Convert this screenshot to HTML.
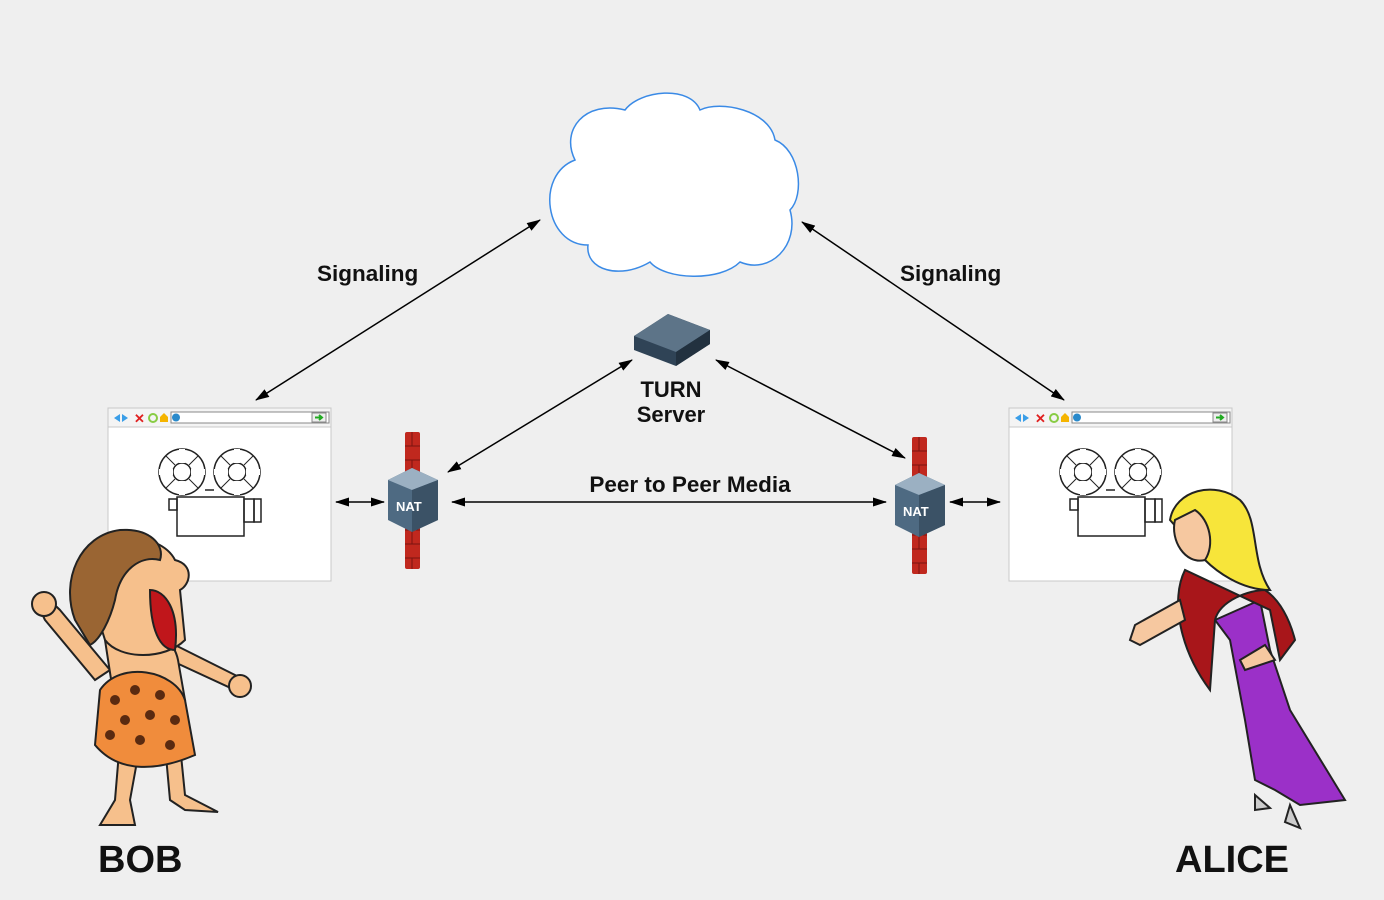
<!DOCTYPE html>
<html><head><meta charset="utf-8"><style>
html,body{margin:0;padding:0;background:#efefef;}
svg{display:block;}
text{font-family:"Liberation Sans",Arial,sans-serif;font-weight:bold;fill:#111;}
</style></head><body>
<svg width="1384" height="900" viewBox="0 0 1384 900" xmlns="http://www.w3.org/2000/svg">
<defs>
<marker id="ah" viewBox="0 0 14 10" refX="13" refY="5" markerWidth="14" markerHeight="10" orient="auto-start-reverse" markerUnits="userSpaceOnUse"><path d="M0,0.5 L14,5 L0,9.5 z" fill="#000"/></marker>
<g id="browser">
<rect x="0" y="0" width="223" height="173" fill="#fff" stroke="#c8c8c8"/>
<rect x="0" y="0" width="223" height="19" fill="#f4f4f4" stroke="#c8c8c8"/>
<path d="M6,10 l6,-4 v8z" fill="#3a9ee8"/><path d="M20,10 l-6,-4 v8z" fill="#3a9ee8"/>
<text x="26" y="15" style="fill:#e02020;font-size:13px">✕</text>
<circle cx="45" cy="10" r="4" fill="none" stroke="#8c4" stroke-width="2"/>
<path d="M52,14 v-5 l4,-4 l4,4 v5z" fill="#f5b400"/>
<rect x="63" y="4" width="158" height="11" fill="#fff" stroke="#888"/>
<circle cx="68" cy="9.5" r="4" fill="#2a8acb"/>
<rect x="204" y="5" width="14" height="9" fill="#eee" stroke="#888"/><path d="M207,9.5 h6 M211,7 l3,2.5 -3,2.5" stroke="#2a2" stroke-width="2" fill="none"/>
<g fill="none" stroke="#222" stroke-width="1.5">
<circle cx="74" cy="64" r="23"/><circle cx="74" cy="64" r="9"/>
<circle cx="129" cy="64" r="23"/><circle cx="129" cy="64" r="9"/>
<path d="M74,41v14M74,73v14M51,64h14M83,64h14M129,41v14M129,73v14M106,64h14M138,64h14" stroke-width="6" stroke="#fff"/>
<path d="M58,48l9,9M90,48l-9,9M58,80l9,-9M90,80l-9,-9M113,48l9,9M145,48l-9,9M113,80l9,-9M145,80l-9,-9" stroke-width="1"/>
<path d="M97,82 h9"/>
<rect x="69" y="89" width="67" height="39"/><rect x="61" y="91" width="8" height="11"/>
<rect x="136" y="91" width="10" height="23"/><rect x="146" y="91" width="7" height="23"/>
</g>
</g>
<g id="nat">
<rect x="-7" y="0" width="15" height="137" fill="#c0281e" rx="2"/>
<g stroke="#7a1410" stroke-width="1"><path d="M-7,14h15M-7,28h15M-7,42h15M-7,98h15M-7,112h15M-7,126h15M0,0v14M0,28v14M0,98v14M0,126v11"/></g>
<path d="M-24,48 L0,36 L26,48 L26,88 L0,100 L-24,88z" fill="#4e6a82"/>
<path d="M-24,48 L0,36 L26,48 L0,58z" fill="#9bb0c2"/>
<path d="M0,58 L26,48 L26,88 L0,100z" fill="#3b5266"/>
<text x="-16" y="79" style="fill:#fff;font-size:13px">NAT</text>
</g>
</defs>

<!-- cloud -->
<path d="M575,160 C560,130 585,100 625,110 C640,90 690,85 700,110 C720,100 770,110 775,140 C800,150 805,195 790,210 C800,245 770,275 740,262 C720,282 665,280 650,262 C620,280 585,270 588,245 C545,245 535,175 575,160z" fill="#fff" stroke="#3a8ae6" stroke-width="1.5"/>

<!-- arrows -->
<g stroke="#000" stroke-width="1.5" fill="none">
<line x1="540" y1="220" x2="256" y2="400" marker-start="url(#ah)" marker-end="url(#ah)"/>
<line x1="802" y1="222" x2="1064" y2="400" marker-start="url(#ah)" marker-end="url(#ah)"/>
<line x1="632" y1="360" x2="448" y2="472" marker-start="url(#ah)" marker-end="url(#ah)"/>
<line x1="716" y1="360" x2="905" y2="458" marker-start="url(#ah)" marker-end="url(#ah)"/>
<line x1="452" y1="502" x2="886" y2="502" marker-start="url(#ah)" marker-end="url(#ah)"/>
<line x1="336" y1="502" x2="384" y2="502" marker-start="url(#ah)" marker-end="url(#ah)"/>
<line x1="950" y1="502" x2="1000" y2="502" marker-start="url(#ah)" marker-end="url(#ah)"/>
</g>

<!-- turn server -->
<path d="M634,336 L668,314 L710,330 L710,344 L676,366 L634,350z" fill="#2f4356"/>
<path d="M634,336 L668,314 L710,330 L676,352z" fill="#5d7488"/>
<path d="M676,352 L710,330 L710,344 L676,366z" fill="#22313f"/>

<use href="#browser" x="108" y="408"/>
<use href="#browser" x="1009" y="408"/>
<use href="#nat" x="412" y="432"/>
<use href="#nat" x="919" y="437"/>

<text x="317" y="281" style="font-size:22.5px">Signaling</text>
<text x="900" y="281" style="font-size:22.5px">Signaling</text>
<text x="671" y="397" text-anchor="middle" style="font-size:22px">TURN</text>
<text x="671" y="422" text-anchor="middle" style="font-size:22px">Server</text>
<text x="690" y="492" text-anchor="middle" style="font-size:22.5px">Peer to Peer Media</text>
<text x="98" y="872" style="font-size:38px">BOB</text>
<text x="1175" y="872" style="font-size:38px">ALICE</text>

<!-- Bob -->
<g stroke="#222" stroke-width="2">
<path d="M60,610 C40,590 35,600 45,620 L95,680 L110,670z" fill="#f6c08c"/>
<path d="M170,660 L235,690 L245,680 L175,645z" fill="#f6c08c"/>
<circle cx="44" cy="604" r="12" fill="#f6c08c"/>
<circle cx="240" cy="686" r="11" fill="#f6c08c"/>
<path d="M105,640 C110,620 170,620 178,660 L185,700 L115,705z" fill="#f6c08c"/>
<path d="M120,740 L115,800 L100,825 L135,825 L130,800 L140,745z" fill="#f6c08c"/>
<path d="M165,745 L170,800 L185,810 L218,812 L185,795 L180,745z" fill="#f6c08c"/>
<path d="M100,690 C120,660 175,670 185,700 L195,755 C160,770 120,775 95,745z" fill="#f08c3c"/>
<path d="M80,560 C95,530 160,530 175,560 C195,565 190,585 180,590 L185,640 C165,660 120,660 105,640z" fill="#f6c08c"/>
<path d="M75,620 C60,580 80,535 120,530 C150,528 165,545 160,560 C140,555 120,570 115,600 C110,620 100,640 90,645z" fill="#9a6533"/>
<path d="M150,590 C165,590 180,610 175,650 C160,650 150,630 150,590z" fill="#c0161b"/>
</g>
<g fill="#5a2a10">
<circle cx="115" cy="700" r="5"/><circle cx="135" cy="690" r="5"/><circle cx="160" cy="695" r="5"/><circle cx="125" cy="720" r="5"/><circle cx="150" cy="715" r="5"/><circle cx="175" cy="720" r="5"/><circle cx="110" cy="735" r="5"/><circle cx="140" cy="740" r="5"/><circle cx="170" cy="745" r="5"/>
</g>

<!-- Alice -->
<g stroke="#222" stroke-width="2">
<path d="M1215,620 L1260,600 L1270,650 L1290,710 L1345,800 L1300,805 L1275,790 L1255,780 L1245,720 L1230,640z" fill="#9b30c8"/>
<path d="M1170,520 C1175,490 1215,480 1240,500 C1260,520 1250,560 1270,590 C1240,590 1215,570 1205,560z" fill="#f7e53a"/>
<path d="M1175,520 C1170,540 1185,565 1205,560 C1215,545 1210,520 1195,510z" fill="#f6c8a0"/>
<path d="M1185,570 C1170,600 1180,650 1210,690 L1215,620 C1220,600 1250,590 1265,590 C1280,600 1290,620 1295,640 L1280,660 L1270,610z" fill="#a8161a"/>
<path d="M1180,600 L1135,625 L1130,640 L1140,645 L1185,620z" fill="#f6c8a0"/>
<path d="M1240,660 L1265,645 L1275,660 L1245,670z" fill="#f6c8a0"/>
<path d="M1255,795 L1270,808 L1255,810z" fill="#ccc"/>
<path d="M1290,805 L1300,828 L1285,822z" fill="#ccc"/>
</g>
</svg>
</body></html>
